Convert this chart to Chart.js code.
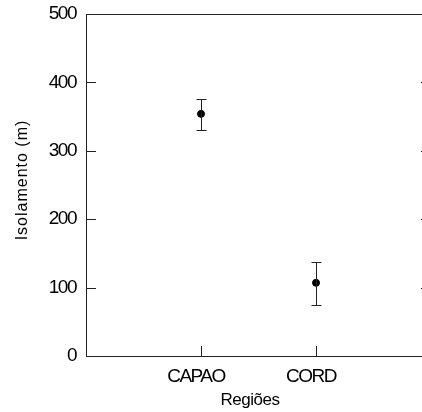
<!DOCTYPE html>
<html>
<head>
<meta charset="utf-8">
<script src="https://cdn.jsdelivr.net/npm/chart.js@4.4.1/dist/chart.umd.min.js"></script>
<style>
  html, body { margin: 0; padding: 0; background: #fff; overflow: hidden; }
  #wrap { width: 422px; height: 412px; overflow: hidden; }
  #c { display: block; }
</style>
</head>
<body>
<div id="wrap"><canvas id="c" width="440" height="412"></canvas></div>
<script>
// values
const categories = ['CAPAO', 'CORD'];
const means = [354, 107];
const upper = [376, 137];
const lower = [330, 75];
const yTicks = [0, 100, 200, 300, 400, 500];
const xTitle = 'Regiões';
const yTitle = 'Isolamento (m)';

const axisColor = '#222';
const fontFamily = '"Liberation Sans", Arial, sans-serif';

// inward tick marks, top/right frame, error bars and axis titles
const framePlugin = {
    id: 'frame',
    beforeDraw(chart) {
        chart.ctx.letterSpacing = '-1.5px';
    },
    afterDatasetsDraw(chart) {
        const ctx = chart.ctx;
        const xs = chart.scales.x, ys = chart.scales.y;
        ctx.save();
        ctx.strokeStyle = axisColor;
        ctx.lineWidth = 1;
        categories.forEach((c, i) => {
            const px = Math.round(xs.getPixelForValue(i + 1)) + 0.5;
            const top = Math.round(ys.getPixelForValue(upper[i])) + 0.5;
            const bot = Math.round(ys.getPixelForValue(lower[i])) + 0.5;
            ctx.beginPath();
            ctx.moveTo(px, top); ctx.lineTo(px, bot);
            ctx.moveTo(px - 5, top); ctx.lineTo(px + 5, top);
            ctx.moveTo(px - 5, bot); ctx.lineTo(px + 5, bot);
            ctx.stroke();
        });
        ctx.restore();
    },
    afterDraw(chart) {
        const ctx = chart.ctx;
        const a = chart.chartArea;
        const xs = chart.scales.x, ys = chart.scales.y;
        const len = 10;
        ctx.save();
        ctx.strokeStyle = axisColor;
        ctx.lineWidth = 1;
        ctx.beginPath();
        // frame top and right
        ctx.moveTo(a.left, a.top + 0.5); ctx.lineTo(a.right, a.top + 0.5);
        ctx.moveTo(a.right - 0.5, a.top); ctx.lineTo(a.right - 0.5, a.bottom);
        // y ticks, left and right
        yTicks.forEach(v => {
            const py = Math.round(ys.getPixelForValue(v)) + 0.5;
            ctx.moveTo(a.left, py); ctx.lineTo(a.left + len, py);
            ctx.moveTo(a.right, py); ctx.lineTo(a.right - len, py);
        });
        // x ticks upward from the bottom
        [0].concat(categories.map((c, i) => i + 1)).forEach(v => {
            const px = Math.round(xs.getPixelForValue(v)) + 0.5;
            ctx.moveTo(px, a.bottom); ctx.lineTo(px, a.bottom - len);
        });
        ctx.stroke();

        // axis titles
        ctx.fillStyle = '#000';
        ctx.letterSpacing = '-0.5px';
        ctx.font = '17px ' + fontFamily;
        ctx.textAlign = 'center';
        ctx.textBaseline = 'alphabetic';
        ctx.fillText(xTitle, a.left + 164, 405);

        ctx.letterSpacing = '1px';
        ctx.font = '16px ' + fontFamily;
        ctx.translate(27, (a.top + a.bottom) / 2 - 5);
        ctx.rotate(-Math.PI / 2);
        ctx.fillText(yTitle, 0, 0);
        ctx.restore();
    }
};

new Chart(document.getElementById('c'), {
    type: 'scatter',
    data: {
        datasets: [{
            data: categories.map((c, i) => ({ x: i + 1, y: means[i] })),
            backgroundColor: '#000',
            borderColor: '#000',
            pointRadius: 3.5,
            pointHoverRadius: 3.5
        }]
    },
    options: {
        responsive: false,
        animation: false,
        events: [],
        layout: { padding: { top: 14, right: 9, left: 0, bottom: 0 } },
        plugins: { legend: { display: false }, tooltip: { enabled: false } },
        scales: {
            x: {
                type: 'linear',
                min: 0,
                max: 3,
                afterBuildTicks(s) { s.ticks = categories.map((c, i) => ({ value: i + 1 })); },
                afterFit(s) { s.height = 56; s.paddingLeft = 0; s.paddingRight = 0; },
                ticks: {
                    callback: v => categories[v - 1],
                    color: '#000',
                    font: { family: fontFamily, size: 19 },
                    padding: 9,
                    labelOffset: -5,
                    maxRotation: 0
                },
                grid: { display: false, drawTicks: false },
                border: { display: true, color: axisColor, width: 1 }
            },
            y: {
                min: 0,
                max: 500,
                afterBuildTicks(s) { s.ticks = yTicks.map(v => ({ value: v })); },
                afterFit(s) { s.width = 86; s.paddingTop = 0; s.paddingBottom = 0; },
                ticks: {
                    color: '#000',
                    font: { family: fontFamily, size: 19 },
                    padding: 10
                },
                grid: { display: false, drawTicks: false },
                border: { display: true, color: axisColor, width: 1 }
            }
        }
    },
    plugins: [framePlugin]
});
</script>
</body>
</html>
